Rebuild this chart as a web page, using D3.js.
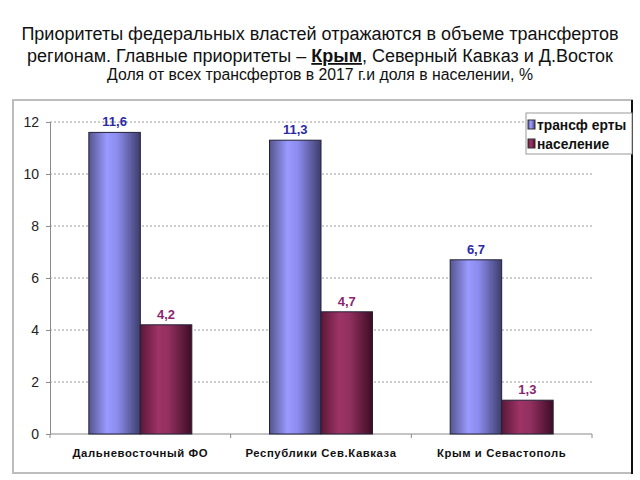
<!DOCTYPE html>
<html><head><meta charset="utf-8">
<script src="https://cdn.jsdelivr.net/npm/d3@7"></script>
<style>body{margin:0;background:#fff;} svg{display:block;font-family:"Liberation Sans",Arial,sans-serif;}</style>
</head><body>
<svg id="c" width="640" height="480"></svg>
<script>
const categories = ["Дальневосточный ФО", "Республики Сев.Кавказа", "Крым и Севастополь"];
const seriesNames = ["трансф ерты", "население"];
const transfers = [11.6, 11.3, 6.7];
const population = [4.2, 4.7, 1.3];
const labelsT = ["11,6", "11,3", "6,7"];
const labelsP = ["4,2", "4,7", "1,3"];
const yTicks = [0, 2, 4, 6, 8, 10, 12];

const svg = d3.select("#c");
const defs = svg.append("defs");
function grad(id, stops){
  const g = defs.append("linearGradient").attr("id", id).attr("x1","0").attr("x2","1").attr("y1","0").attr("y2","0");
  stops.forEach(s => g.append("stop").attr("offset", s[0]).attr("stop-color", s[1]));
}
grad("gb", [[0,"#55558f"],[0.35,"#9a9aff"],[0.55,"#8c8cee"],[1,"#3d3d6b"]]);
grad("gr", [[0,"#5a1838"],[0.35,"#9e3366"],[0.55,"#92305f"],[1,"#3e0c25"]]);

// Title
const t = svg.append("text").attr("text-anchor","middle").attr("fill","#111");
t.append("tspan").attr("x",320).attr("y",40).attr("font-size",18).text("Приоритеты федеральных властей отражаются в объеме трансфертов");
const l2 = t.append("tspan").attr("x",320).attr("y",62).attr("font-size",18);
l2.append("tspan").text("регионам. Главные приоритеты – ");
l2.append("tspan").attr("font-weight","bold").attr("text-decoration","underline").text("Крым");
l2.append("tspan").text(", Северный Кавказ и Д.Восток");
svg.append("text").attr("x",320).attr("y",80).attr("text-anchor","middle").attr("font-size",15.8).attr("fill","#111")
  .text("Доля от всех трансфертов в 2017 г.и доля в населении, %");

// Frame
svg.append("rect").attr("x",13).attr("y",100).attr("width",619).attr("height",373).attr("fill","#fff").attr("stroke","#bdbdbd").attr("stroke-width",2);
svg.append("line").attr("x1",632).attr("x2",632).attr("y1",100).attr("y2",474).attr("stroke","#111").attr("stroke-width",2);

const x0 = d3.scaleBand().domain(categories).range([50, 592]).paddingInner(0.43).paddingOuter(0.215);
const x1 = d3.scaleBand().domain(seriesNames).range([0, x0.bandwidth()]);
const y = d3.scaleLinear().domain([0, 12]).range([434, 122]);

// Grid
svg.append("g").selectAll("line").data(yTicks.filter(d=>d>0)).join("line")
  .attr("x1",50).attr("x2",592).attr("y1",d=>y(d)).attr("y2",d=>y(d))
  .attr("stroke","#9a9a9a").attr("stroke-dasharray","2,2").attr("stroke-width",1);

// Y axis
const ya = svg.append("g").attr("transform","translate(50,0)").call(d3.axisLeft(y).tickValues(yTicks).tickSize(4).tickPadding(7));
ya.select(".domain").attr("stroke","#8a8a8a");
ya.selectAll(".tick line").attr("stroke","#8a8a8a");
ya.selectAll("text").attr("font-size",14).attr("fill","#222").attr("font-family","Liberation Sans, Arial, sans-serif");

// X axis
const xa = svg.append("g").attr("transform","translate(0,434)");
xa.append("line").attr("x1",50).attr("x2",592).attr("stroke","#8a8a8a");
const bounds = [50].concat(categories.map(c => x0(c) + x0.bandwidth() + x0.step()*x0.paddingInner()/2));
bounds[bounds.length-1] = 592;
xa.selectAll(".tk").data(bounds).join("line").attr("class","tk").attr("x1",d=>d).attr("x2",d=>d).attr("y1",0).attr("y2",4).attr("stroke","#8a8a8a");
xa.selectAll(".cl").data(categories).join("text").attr("class","cl")
  .attr("x",d=>x0(d)+x0.bandwidth()/2).attr("y",23).attr("text-anchor","middle")
  .attr("font-size",11.3).attr("font-weight","bold").attr("letter-spacing",0.6).attr("fill","#111").text(d=>d);

// Bars
const data = categories.map((c,i)=>({c, vals:[{s:seriesNames[0], v:transfers[i], l:labelsT[i]},{s:seriesNames[1], v:population[i], l:labelsP[i]}]}));
const g = svg.append("g").selectAll("g").data(data).join("g").attr("transform",d=>`translate(${x0(d.c)},0)`);
g.selectAll("rect").data(d=>d.vals).join("rect")
  .attr("x",d=>x1(d.s)).attr("width",x1.bandwidth()).attr("y",d=>y(d.v)).attr("height",d=>y(0)-y(d.v))
  .attr("fill",(d,i)=>i===0?"url(#gb)":"url(#gr)").attr("stroke","#222238").attr("stroke-width",1);
g.selectAll("text").data(d=>d.vals).join("text")
  .attr("x",d=>x1(d.s)+x1.bandwidth()/2).attr("y",d=>y(d.v)-6).attr("text-anchor","middle")
  .attr("font-size",13).attr("font-weight","bold").attr("fill",(d,i)=>i===0?"#2a2aa8":"#8a2670").text(d=>d.l);

// Legend
const lg = svg.append("g");
lg.append("rect").attr("x",526).attr("y",113).attr("width",106).attr("height",41).attr("fill","#fff").attr("stroke","#9a9a9a");
seriesNames.forEach((s,i)=>{
  lg.append("rect").attr("x",528).attr("y",120+i*19).attr("width",7).attr("height",9)
    .attr("fill",i===0?"url(#gb)":"url(#gr)").attr("stroke","#333");
  lg.append("text").attr("x",537).attr("y",129.5+i*19).attr("font-size",13.8).attr("font-weight","bold").attr("fill","#111").text(s);
});
</script>
</body></html>
